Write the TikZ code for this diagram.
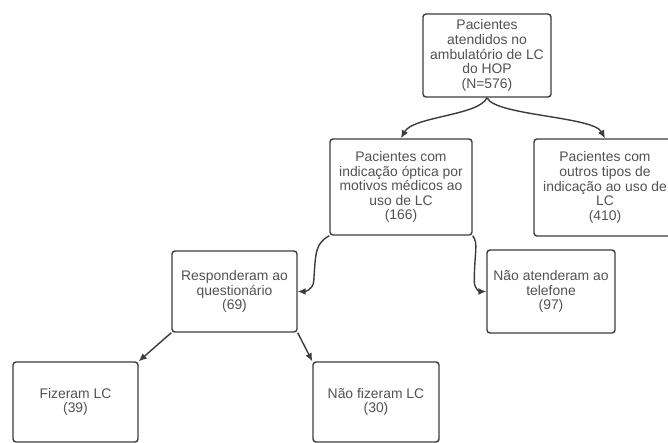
\documentclass[tikz,border=0pt]{standalone}
\usepackage{fontspec}
\setmainfont{Liberation Sans}
\usetikzlibrary{arrows.meta,calc}
\definecolor{boxline}{HTML}{3C3C3C}
\definecolor{txt}{HTML}{525252}
\begin{document}
\begin{tikzpicture}[x=1pt,y=-1pt,
  box/.style={draw=boxline, line width=1.4pt, rounded corners=3pt, rectangle,
    align=center, inner sep=0pt, text=txt,
    font=\fontsize{13.9}{14.6}\selectfont},
  conn/.style={draw=boxline, line width=1.4pt,
    -{Latex[length=8pt,width=7pt]}}]
\useasboundingbox (0,0) rectangle (668,442);
\fill[white] (0,0) rectangle (668,442);
\node[box, minimum width=128pt, minimum height=83pt] (top) at (487,55.5)
  {Pacientes\\atendidos no\\ambulatório de LC\\do HOP\\(N=576)};
\node[box, minimum width=142pt, minimum height=96pt] (b166) at (401,187)
  {Pacientes com\\indicação óptica por\\motivos médicos ao\\uso de LC\\(166)};
\node[box, minimum width=142pt, minimum height=97pt] (b410) at (605,187.5)
  {Pacientes com\\outros tipos de\\indicação ao uso de\\LC\\(410)};
\node[box, minimum width=125pt, minimum height=81pt] (b69) at (234.5,291.5)
  {Responderam ao\\questionário\\(69)};
\node[box, minimum width=128pt, minimum height=83pt] (b97) at (551,291.5)
  {Não atenderam ao\\telefone\\(97)};
\node[box, minimum width=125pt, minimum height=80pt] (b39) at (75.5,402)
  {Fizeram LC\\(39)};
\node[box, minimum width=126pt, minimum height=80pt] (b30) at (376,402)
  {Não fizeram LC\\(30)};
\draw[conn] (top.south) .. controls ($(top.south)+(-8,18)$) and ($(b166.north)+(12,-22)$) .. (b166.north);
\draw[conn] (top.south) .. controls ($(top.south)+(8,18)$) and ($(b410.north)+(-12,-22)$) .. (b410.north);
\draw[conn] (b166.south west) .. controls ($(b166.south west)+(-14,8)$) and ($(b69.east)+(18,-40)$) .. ($(b69.east)+(16,-10)$) .. controls ($(b69.east)+(15,-2)$) and ($(b69.east)+(8,0)$) .. (b69.east);
\draw[conn] (b166.south east) .. controls ($(b166.south east)+(6,8)$) and ($(b97.west)+(-12,-40)$) .. ($(b97.west)+(-12,-10)$) .. controls ($(b97.west)+(-12,-2)$) and ($(b97.west)+(-6,0)$) .. (b97.west);
\draw[conn] (b69.south west) -- (b39.north east);
\draw[conn] (b69.south east) -- (b30.north west);
\end{tikzpicture}
\end{document}
